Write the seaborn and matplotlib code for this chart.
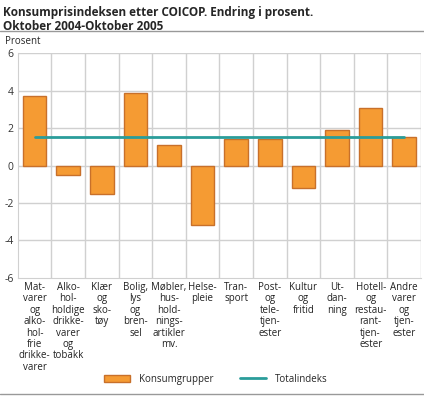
import matplotlib
matplotlib.use('Agg')
import matplotlib.pyplot as plt
from matplotlib.patches import Patch
from matplotlib.lines import Line2D
import seaborn as sns
import pandas as pd

grupper = ["Mat-\nvarer\nog\nalko-\nhol-\nfrie\ndrikke-\nvarer",
           "Alko-\nhol-\nholdige\ndrikke-\nvarer\nog\ntobakk",
           "Klær\nog\nsko-\ntøy",
           "Bolig,\nlys\nog\nbren-\nsel",
           "Møbler,\nhus-\nhold-\nnings-\nartikler\nmv.",
           "Helse-\npleie",
           "Tran-\nsport",
           "Post-\nog\ntele-\ntjen-\nester",
           "Kultur\nog\nfritid",
           "Ut-\ndan-\nning",
           "Hotell-\nog\nrestau-\nrant-\ntjen-\nester",
           "Andre\nvarer\nog\ntjen-\nester"]
endring = [3.7, -0.5, -1.5, 3.9, 1.1, -3.2, 1.4, 1.4, -1.2, 1.9, 3.1, 1.5]
totalindeks = 1.5

ORANSJE = '#f59b33'
KANT = '#c8702a'
TURKIS = '#2a9d9a'
GRID = '#d0d0d0'

sns.set_style('white')
plt.rcParams['font.family'] = ['Open Sans', 'DejaVu Sans']

df = pd.DataFrame({'gruppe': grupper, 'endring': endring})

fig = plt.figure(figsize=(4.24, 3.97), dpi=100)
ax = fig.add_axes([0.042, 0.300, 0.951, 0.566])

sns.barplot(data=df, x='gruppe', y='endring', color=ORANSJE, width=0.7,
            edgecolor=KANT, linewidth=1, saturation=1, ax=ax, zorder=3)
ax.plot([0, len(grupper) - 1], [totalindeks, totalindeks], color=TURKIS, lw=2, zorder=4)

ax.set_ylim(-6, 6)
ax.set_xlim(-0.5, len(grupper) - 0.5)
ax.set_yticks([-6, -4, -2, 0, 2, 4, 6])
ax.set_yticklabels(['-6', '-4', '-2', '0', '2', '4', '6'], fontsize=7.5, color='#333333')
ax.set_xticks(range(len(grupper)))
ax.set_xticklabels(grupper, fontsize=7, linespacing=1.05, color='#222222', va='top')
ax.tick_params(axis='both', length=0, pad=3)
ax.set_xlabel('')
ax.set_ylabel('')

for y in [-4, -2, 2, 4, 6]:
    ax.axhline(y, color=GRID, lw=1, zorder=1)
for x in range(1, len(grupper) + 1):
    ax.axvline(x - 0.5, color=GRID, lw=1, zorder=1)
ax.axhline(0, color=GRID, lw=1, zorder=1)
for s in ['top', 'right']:
    ax.spines[s].set_visible(False)
ax.spines['left'].set_color(GRID)
ax.spines['bottom'].set_color(GRID)

fig.text(0.008, 0.985, 'Konsumprisindeksen etter COICOP. Endring i prosent.\nOktober 2004-Oktober 2005',
         fontsize=8.5, fontweight='bold', va='top', ha='left', linespacing=1.15)
fig.add_artist(Line2D([0, 1], [0.922, 0.922], color='#999999', lw=1))
fig.text(0.012, 0.895, 'Prosent', fontsize=7, va='center', ha='left')
fig.add_artist(Line2D([0, 1], [0.008, 0.008], color='#999999', lw=1))

handles = [Patch(facecolor=ORANSJE, edgecolor=KANT, label='Konsumgrupper'),
           Line2D([], [], color=TURKIS, lw=2, label='Totalindeks')]
fig.legend(handles=handles, loc='center', bbox_to_anchor=(0.51, 0.045), ncol=2,
           frameon=False, fontsize=7, columnspacing=2.7, handlelength=2.6,
           handletextpad=1.0)

fig.savefig('out.png', dpi=100)
